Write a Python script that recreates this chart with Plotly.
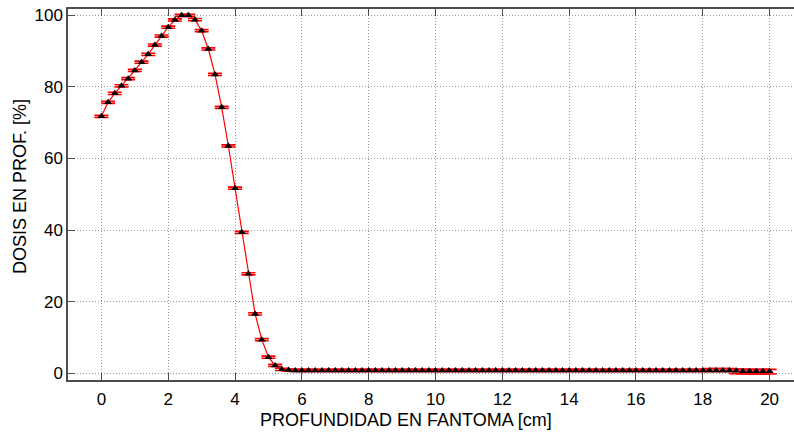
import plotly.graph_objects as go

depth = [0.0, 0.2, 0.4, 0.6, 0.8, 1.0, 1.2, 1.4, 1.6, 1.8,
         2.0, 2.2, 2.4, 2.6, 2.8, 3.0, 3.2, 3.4, 3.6, 3.8,
         4.0, 4.2, 4.4, 4.6, 4.8, 5.0, 5.2, 5.4, 5.6, 5.8,
         6.0, 6.2, 6.4, 6.6, 6.8, 7.0, 7.2, 7.4, 7.6, 7.8,
         8.0, 8.2, 8.4, 8.6, 8.8, 9.0, 9.2, 9.4, 9.6, 9.8,
         10.0, 10.2, 10.4, 10.6, 10.8, 11.0, 11.2, 11.4, 11.6, 11.8,
         12.0, 12.2, 12.4, 12.6, 12.8, 13.0, 13.2, 13.4, 13.6, 13.8,
         14.0, 14.2, 14.4, 14.6, 14.8, 15.0, 15.2, 15.4, 15.6, 15.8,
         16.0, 16.2, 16.4, 16.6, 16.8, 17.0, 17.2, 17.4, 17.6, 17.8,
         18.0, 18.2, 18.4, 18.6, 18.8, 19.0, 19.2, 19.4, 19.6, 19.8,
         20.0]

dose = [71.8, 75.7, 78.2, 80.3, 82.3, 84.6, 86.9, 89.1, 91.7, 94.2,
        96.7, 98.7, 100.0, 100.0, 98.8, 95.7, 90.6, 83.5, 74.3, 63.5,
        51.7, 39.4, 27.8, 16.6, 9.4, 4.5, 2.2, 1.1, 0.9, 0.8,
        0.8, 0.8, 0.8, 0.8, 0.8, 0.8, 0.8, 0.8, 0.8, 0.8,
        0.8, 0.8, 0.8, 0.8, 0.8, 0.8, 0.8, 0.8, 0.8, 0.8,
        0.8, 0.8, 0.8, 0.8, 0.8, 0.8, 0.8, 0.8, 0.8, 0.8,
        0.8, 0.8, 0.8, 0.8, 0.8, 0.8, 0.8, 0.8, 0.8, 0.8,
        0.8, 0.8, 0.8, 0.8, 0.8, 0.8, 0.8, 0.8, 0.8, 0.8,
        0.8, 0.8, 0.8, 0.8, 0.8, 0.8, 0.8, 0.8, 0.8, 0.8,
        0.8, 0.8, 0.8, 0.8, 0.8, 0.7, 0.6, 0.6, 0.6, 0.6,
        0.6]

err_plus = [0.3] * 91 + [0.5] * 10
err_minus = [0.3] * 95 + [0.8] * 6

x_ticks = [0, 2, 4, 6, 8, 10, 12, 14, 16, 18, 20]
y_ticks = [0, 20, 40, 60, 80, 100]

x_title = "PROFUNDIDAD EN FANTOMA [cm]"
y_title = "DOSIS EN PROF. [%]"

FONT = "Liberation Sans, Arial, Helvetica, sans-serif"
AX = "#4d4d4d"
GRID = "#9a9a9a"

fig = go.Figure(go.Scatter(
    x=depth, y=dose, mode="lines+markers",
    line=dict(color="red", width=1.2),
    marker=dict(symbol="triangle-up", color="black", size=7),
    error_y=dict(type="data", array=err_plus, arrayminus=err_minus,
                 color="red", thickness=1.6, width=7),
    showlegend=False,
))

W, H = 794, 432
L, R, T, B = 68, 0, 9, 52
pw, ph = W - L - R, H - T - B

fig.update_layout(
    width=W, height=H,
    margin=dict(l=L, r=R, t=T, b=B, pad=0, autoexpand=False),
    paper_bgcolor="white", plot_bgcolor="white",
    font=dict(family=FONT, size=17, color="black"),
    xaxis=dict(range=[-1.0, 20.73], tickvals=x_ticks, ticks="inside", ticklen=7,
               tickcolor=AX, tickwidth=1, showline=True, linecolor=AX, linewidth=1.5,
               mirror="ticks", showgrid=True, gridcolor=GRID, griddash="1px,2px",
               gridwidth=1, zeroline=False, automargin=False, ticklabelstandoff=3,
               tickfont=dict(size=17, color="black")),
    yaxis=dict(range=[-1.87, 101.77], tickvals=y_ticks, ticks="inside", ticklen=7,
               tickcolor=AX, tickwidth=1, showline=True, linecolor=AX, linewidth=1.5,
               mirror=False, showgrid=True, gridcolor=GRID, griddash="1px,2px",
               gridwidth=1, zeroline=False, automargin=False,
               tickfont=dict(size=17, color="black")),
    annotations=[
        dict(text=x_title, xref="paper", yref="paper",
             x=(406 - L) / pw, y=(H - B - 420) / ph, xanchor="center", yanchor="middle",
             showarrow=False, font=dict(size=18, color="black")),
        dict(text=y_title, xref="paper", yref="paper", textangle=-90,
             x=(20 - L) / pw, y=(H - B - 187) / ph, xanchor="center", yanchor="middle",
             showarrow=False, font=dict(size=18, color="black")),
    ],
)

fig.write_html("out.html",
               config={"displayModeBar": False},
               post_script="document.body.style.margin='0px';document.body.style.overflow='hidden';")
